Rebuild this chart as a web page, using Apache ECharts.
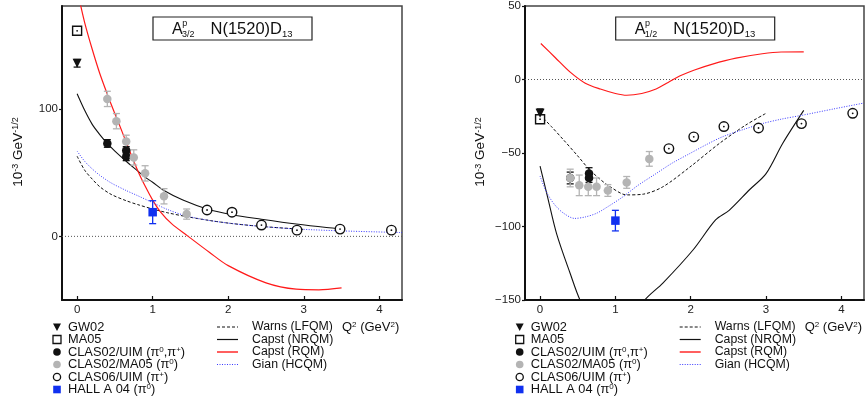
<!DOCTYPE html>
<html><head><meta charset="utf-8">
<script src="https://cdn.jsdelivr.net/npm/echarts@6/dist/echarts.min.js"></script>
<style>html,body{margin:0;padding:0;background:#fff}#c{width:866px;height:402px}</style>
</head><body><div id="c"></div><script>
// ---------- Left panel: A_3/2 (10^-3 GeV^-1/2) ----------  [Q2, value, error]
const gw02_A32     = [[0, 136, 3]];
const ma05_A32     = [[0, 161.5, 0]];
const clasUim_A32  = [[0.40, 73, 3], [0.65, 67.5, 3], [0.65, 62.5, 3]];
const clasMa05_A32 = [[0.40, 108, 6], [0.52, 90.5, 6], [0.65, 74.5, 5], [0.75, 62, 6], [0.90, 49.5, 6], [1.15, 31.5, 6], [1.45, 17.5, 4]];
const clas06_A32   = [[1.72, 20.7, 0], [2.05, 19, 0], [2.44, 8.9, 0], [2.91, 4.9, 0], [3.48, 5.7, 0], [4.16, 4.9, 0]];
const hallA_A32    = [[1.0, 19, 9]];
const warns_A32  = [[0,63],[0.1,52],[0.2,45],[0.3,39],[0.45,33],[0.65,28],[0.8,25],[1.0,21.5],[1.2,18.5],[1.45,15.5],[1.75,12.5],[2.06,10],[2.5,7.5],[3.0,5.5]];
const capstNR_A32 = [[0,112],[0.1,99],[0.2,88],[0.3,80],[0.4,73],[0.5,67],[0.65,59],[0.8,51.5],[0.9,46.5],[1.0,42.5],[1.15,36],[1.4,28.5],[1.72,21.5],[2.05,17],[2.44,13.5],[2.9,9.7],[3.3,7],[3.5,6]];
const capstR_A32 = [[0.03,186],[0.1,168],[0.2,147],[0.3,128],[0.43,107],[0.55,89],[0.65,74],[0.8,52],[0.9,39.5],[1.0,28.5],[1.1,19.5],[1.25,10],[1.47,0],[1.75,-12.5],[2.0,-23],[2.5,-36.5],[2.9,-41.5],[3.2,-42],[3.5,-40.5]];
const gian_A32   = [[0,67],[0.1,59],[0.2,53],[0.3,48],[0.45,42],[0.65,36],[0.8,32],[1.0,26.5],[1.2,21],[1.45,16],[1.75,12.5],[2.06,10],[2.5,7.5],[2.9,5.8],[3.5,4.3],[4.3,3]];

// ---------- Right panel: A_1/2 ----------
const gw02_A12     = [[0, -23, 3]];
const ma05_A12     = [[0, -27, 0]];
const clasUim_A12  = [[0.40, -67, 4], [0.65, -64, 4], [0.65, -67, 3]];
const clasMa05_A12 = [[0.40, -67, 6], [0.52, -72, 7], [0.64, -73, 6], [0.75, -73, 6], [0.90, -75.5, 4], [1.15, -70, 4], [1.45, -54, 5]];
const clas06_A12   = [[1.71, -47, 0], [2.04, -39, 0], [2.44, -32, 0], [2.90, -33, 0], [3.47, -30, 0], [4.15, -23, 0]];
const hallA_A12    = [[1.0, -96, 7]];
const warns_A12  = [[0,-24],[0.15,-32],[0.31,-41],[0.5,-52],[0.65,-61],[0.8,-68],[0.93,-73],[1.15,-78.5],[1.37,-78],[1.63,-73],[1.99,-59.5],[2.38,-43.5],[2.73,-31],[3.0,-23]];
const capstNR_A12 = [[0,-59],[0.1,-80],[0.22,-105],[0.4,-132],[0.53,-150],[0.7,-165],[0.9,-175],[1.1,-172],[1.25,-162],[1.39,-150],[1.63,-138.5],[2.03,-116],[2.33,-95.5],[2.51,-89],[2.78,-75],[3.0,-64],[3.22,-43.5],[3.5,-21]];
const capstR_A12 = [[0.01,24.5],[0.2,15],[0.4,5],[0.6,-2.5],[0.8,-6.5],[1.0,-9.5],[1.15,-10.7],[1.35,-9.5],[1.54,-6.5],[1.7,-2],[1.86,2.5],[2.05,6.5],[2.29,10.5],[2.6,14.5],[2.95,17.5],[3.2,18.7],[3.5,18.8]];
const gian_A12   = [[0,-65.7],[0.08,-76],[0.18,-84.3],[0.3,-90.5],[0.46,-94.5],[0.6,-93.5],[0.75,-91],[0.9,-86.5],[1.1,-79.8],[1.3,-72],[1.54,-64],[1.75,-57],[1.99,-50.3],[2.2,-44.5],[2.42,-39],[2.7,-34],[2.95,-30],[3.2,-27],[3.48,-24.3],[3.9,-20],[4.3,-16]];

// Tick labels
const xTicks = [0, 1, 2, 3, 4];
const yTicksLeft = [0, 100];
const legendMarkers = ['GW02', 'MA05', 'CLAS02/UIM (π{s|0},π{s|+})', 'CLAS02/MA05 (π{s|0})', 'CLAS06/UIM (π{s|+})', 'HALL A 04 (π{s|0})'];
const legendLines = ['Warns (LFQM)', 'Capst (NRQM)', 'Capst (RQM)', 'Gian (HCQM)'];

const FONT = '"Liberation Sans", Arial, Helvetica, sans-serif';
const GRAY = '#b4b4b4', BLUE = '#1030f0', RED = '#ff1a1a', GIAN = '#3a3aff';

const chart = echarts.init(document.getElementById('c'), null, {renderer: 'canvas'});

function errSeries(data, idx, color, cap) {
  return {
    type: 'custom', xAxisIndex: idx, yAxisIndex: idx, z: 5, silent: true,
    data: data,
    renderItem: function (params, api) {
      const x = api.value(0), y = api.value(1), e = api.value(2);
      if (!e) return null;
      const top = api.coord([x, y + e]), bot = api.coord([x, y - e]);
      const st = {stroke: color, lineWidth: 1.3};
      return {type: 'group', children: [
        {type: 'line', shape: {x1: top[0], y1: top[1], x2: bot[0], y2: bot[1]}, style: st},
        {type: 'line', shape: {x1: top[0] - cap, y1: top[1], x2: top[0] + cap, y2: top[1]}, style: st},
        {type: 'line', shape: {x1: bot[0] - cap, y1: bot[1], x2: bot[0] + cap, y2: bot[1]}, style: st}
      ]};
    }
  };
}
function lineS(data, idx, color, type, width, z) {
  return {type: 'line', xAxisIndex: idx, yAxisIndex: idx, data: data, smooth: 0.3, symbol: 'none',
    clip: true, z: z || 3, silent: true, lineStyle: {color: color, type: type, width: width}};
}
function scat(data, idx, symbol, size, fill, stroke, rot, z) {
  return {type: 'scatter', xAxisIndex: idx, yAxisIndex: idx, data: data, symbol: symbol, symbolSize: size,
    symbolRotate: rot || 0, z: z || 6, silent: true,
    itemStyle: {color: fill, borderColor: stroke, borderWidth: stroke ? 1.4 : 0, opacity: 1}};
}
function panelSeries(idx, d) {
  return [
    {type: 'line', xAxisIndex: idx, yAxisIndex: idx, data: [[-0.2, 0], [4.3, 0]], symbol: 'none', z: 2, silent: true,
      lineStyle: {color: '#555', type: [1, 2], width: 1}},
    lineS(d.warns, idx, '#111', [3, 2], 1),
    lineS(d.nr, idx, '#111', 'solid', 1.1),
    lineS(d.r, idx, RED, 'solid', 1.2),
    lineS(d.gian, idx, GIAN, [1, 1.5], 1),
    errSeries(d.gw, idx, '#111', 3.5),
    errSeries(d.uim, idx, '#111', 3.5),
    errSeries(d.ma, idx, GRAY, 3.5),
    errSeries(d.hall, idx, BLUE, 3.5),
    scat(d.ma05, idx, 'rect', 9, '#fff', '#111'),
    scat(d.ma05, idx, 'circle', 1.8, '#111', null, 0, 8),
    scat(d.gw, idx, 'triangle', 9, '#111', null, 180),
    scat(d.uim, idx, 'circle', 8.5, '#111', null),
    scat(d.ma, idx, 'circle', 8.5, GRAY, null, 0, 7),
    scat(d.c06, idx, 'circle', 9.5, '#fff', '#111'),
    scat(d.c06, idx, 'circle', 1.8, '#111', null, 0, 8),
    scat(d.hall, idx, 'rect', 8.5, BLUE, null)
  ];
}

const xAxisBase = {
  type: 'value', min: -0.2, max: 4.3, splitLine: {show: false},
  axisLine: {show: true, onZero: false, lineStyle: {color: '#111', width: 2}},
  axisTick: {show: true, inside: true, length: 4, customValues: xTicks, lineStyle: {color: '#111', width: 1.2}},
  axisLabel: {customValues: xTicks, margin: 4, fontSize: 11.5, color: '#222', fontFamily: FONT}
};

const graphics = [];
function txt(x, y, text, size, opts) {
  graphics.push(Object.assign({type: 'text', x: x, y: y, silent: true, z: 100,
    style: Object.assign({text: text, fontSize: size, fontFamily: FONT, fill: '#111',
      rich: {s: {fontSize: Math.round(size * 0.62), verticalAlign: 'top', fontFamily: FONT, fill: '#111'}},
      verticalAlign: 'middle', align: 'left'}, (opts && opts.style) || {})}, (opts && opts.el) || {}));
}
function panelGraphics(dx, sub) {
  // title box
  graphics.push({type: 'rect', shape: {x: 153 + dx, y: 17, width: 159, height: 23}, silent: true, z: 100,
    style: {fill: '#fff', stroke: '#222', lineWidth: 1.2}});
  txt(172 + dx, 29.5, 'A', 16);
  txt(182.3 + dx, 24, 'p', 9);
  txt(182 + dx, 34.5, sub, 9);
  txt(210.5 + dx, 29.5, 'N(1520)D', 16.5);
  txt(282 + dx, 34.5, '13', 9.5);
  // y-axis name
  txt(18 + dx, 152, '10{s|-3} GeV{s|-1/2}', 13.5, {el: {rotation: Math.PI / 2},
    style: {align: 'center', rich: {s: {fontSize: 9, verticalAlign: 'top', fontFamily: FONT, fill: '#111'}}}});
  // marker legend
  const rows = [327, 339.5, 352, 364.5, 377, 389.5];
  const mx = 57 + dx;
  graphics.push({type: 'polygon', shape: {points: [[mx - 4, rows[0] - 3.5], [mx + 4, rows[0] - 3.5], [mx, rows[0] + 4]]}, style: {fill: '#111'}, z: 100});
  graphics.push({type: 'rect', shape: {x: mx - 4, y: rows[1] - 4, width: 8, height: 8}, style: {fill: '#fff', stroke: '#111', lineWidth: 1.3}, z: 100});
  graphics.push({type: 'circle', shape: {cx: mx, cy: rows[2], r: 3.8}, style: {fill: '#111'}, z: 100});
  graphics.push({type: 'circle', shape: {cx: mx, cy: rows[3], r: 3.8}, style: {fill: GRAY}, z: 100});
  graphics.push({type: 'circle', shape: {cx: mx, cy: rows[4], r: 3.6}, style: {fill: '#fff', stroke: '#111', lineWidth: 1.3}, z: 100});
  graphics.push({type: 'rect', shape: {x: mx - 3.8, y: rows[5] - 3.8, width: 7.6, height: 7.6}, style: {fill: BLUE}, z: 100});
  legendMarkers.forEach((t, i) => txt(68 + dx, rows[i], t, 12.8));
  // line legend
  const ls = [
    {stroke: '#111', lineDash: [3, 2], lineWidth: 1},
    {stroke: '#111', lineWidth: 1.2},
    {stroke: RED, lineWidth: 1.4},
    {stroke: GIAN, lineDash: [1, 1.5], lineWidth: 1}
  ];
  legendLines.forEach((t, i) => {
    graphics.push({type: 'line', shape: {x1: 217 + dx, y1: rows[i], x2: 238 + dx, y2: rows[i]}, style: ls[i], z: 100});
    txt(252 + dx, rows[i], t, 12.3);
  });
  txt(342 + dx, 327, 'Q{s|2} (GeV{s|2})', 13);
}
panelGraphics(0, '3/2');
panelGraphics(462.7, '1/2');

const option = {
  animation: false,
  backgroundColor: '#fff',
  grid: [
    {left: 62, top: 6, width: 340, height: 294, show: true, borderColor: '#444', borderWidth: 1.5, backgroundColor: 'transparent'},
    {left: 525, top: 6, width: 339, height: 294, show: true, borderColor: '#444', borderWidth: 1.5, backgroundColor: 'transparent'}
  ],
  xAxis: [Object.assign({gridIndex: 0}, xAxisBase), Object.assign({gridIndex: 1}, xAxisBase)],
  yAxis: [
    {gridIndex: 0, type: 'value', min: -50, max: 181, splitLine: {show: false},
      axisLine: {show: true, onZero: false, lineStyle: {color: '#111', width: 2}},
      axisTick: {show: true, inside: false, length: 3, customValues: yTicksLeft, lineStyle: {color: '#111', width: 1.2}},
      axisLabel: {customValues: yTicksLeft, margin: 4, fontSize: 11.5, color: '#222', fontFamily: FONT}},
    {gridIndex: 1, type: 'value', min: -150, max: 50, interval: 50, splitLine: {show: false},
      axisLine: {show: true, onZero: false, lineStyle: {color: '#111', width: 2}},
      axisTick: {show: true, inside: false, length: 3, lineStyle: {color: '#111', width: 1.2}},
      axisLabel: {margin: 4, fontSize: 11.5, color: '#222', fontFamily: FONT,
        formatter: v => String(v).replace('-', '\u2212')}}
  ],
  series: [].concat(
    panelSeries(0, {warns: warns_A32, nr: capstNR_A32, r: capstR_A32, gian: gian_A32, gw: gw02_A32, ma05: ma05_A32,
      uim: clasUim_A32, ma: clasMa05_A32, c06: clas06_A32, hall: hallA_A32}),
    panelSeries(1, {warns: warns_A12, nr: capstNR_A12, r: capstR_A12, gian: gian_A12, gw: gw02_A12, ma05: ma05_A12,
      uim: clasUim_A12, ma: clasMa05_A12, c06: clas06_A12, hall: hallA_A12})
  ),
  graphic: graphics
};
chart.setOption(option);
</script></body></html>
